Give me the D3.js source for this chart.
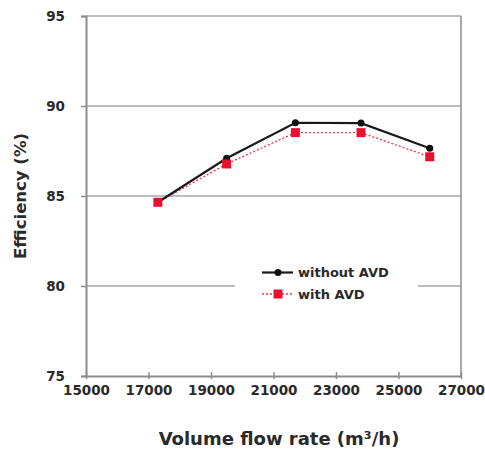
<!DOCTYPE html>
<html><head><meta charset="utf-8">
<script src="https://cdn.jsdelivr.net/npm/d3@7"></script>
<style>body{margin:0;background:#fff;} svg{display:block;}</style>
</head><body>
<svg id="c" width="485" height="452"></svg>
<script>
const flowRates = [17300, 19500, 21700, 23800, 26000];
const withoutAVD = [84.65, 87.1, 89.07, 89.05, 87.65];
const withAVD = [84.65, 86.78, 88.52, 88.52, 87.18];
const xTicks = [15000, 17000, 19000, 21000, 23000, 25000, 27000];
const yTicks = [75, 80, 85, 90, 95];
const seriesNames = ["without AVD", "with AVD"];

const svg = d3.select("#c");
const L = 86, R = 461, T = 16, B = 376;
const x = d3.scaleLinear().domain([15000, 27000]).range([L, R]);
const y = d3.scaleLinear().domain([75, 95]).range([B, T]);
const axisCol = "#8c8c8c", textCol = "#2a2a2a";
const font = "'DejaVu Sans', Verdana, sans-serif";

// gridlines
svg.append("g").selectAll("line").data(yTicks.filter(d => d > 75)).join("line")
  .attr("x1", L).attr("x2", R).attr("y1", d => y(d)).attr("y2", d => y(d))
  .attr("stroke", "#a8a8a8").attr("stroke-width", 1.5);
// right border
svg.append("line").attr("x1", R).attr("x2", R).attr("y1", T).attr("y2", B)
  .attr("stroke", axisCol).attr("stroke-width", 1.5);

// axes
const yAxis = d3.axisLeft(y).tickValues(yTicks).tickSize(5).tickPadding(16).tickFormat(d3.format("d"));
const gy = svg.append("g").attr("transform", `translate(${L},0)`).call(yAxis);
const xAxis = d3.axisBottom(x).tickValues(xTicks).tickSize(0).tickPadding(9).tickFormat(d3.format("d"));
const gx = svg.append("g").attr("transform", `translate(0,${B})`).call(xAxis);
[gy, gx].forEach(g => {
  g.select(".domain").attr("stroke", axisCol).attr("stroke-width", 2);
  g.selectAll(".tick line").attr("stroke", axisCol).attr("stroke-width", 1.5);
  g.selectAll("text").attr("fill", textCol).attr("font-family", font)
    .attr("font-weight", "bold").attr("font-size", 13.5);
});
// small x tick marks straddling the axis
gx.selectAll(".tick").append("line").attr("y1", -4).attr("y2", 3)
  .attr("stroke", axisCol).attr("stroke-width", 1.5);

// axis titles
svg.append("text").attr("transform", `translate(26,196) rotate(-90)`)
  .attr("text-anchor", "middle").attr("fill", textCol).attr("font-family", font)
  .attr("font-weight", "bold").attr("font-size", 16.5).text("Efficiency (%)");
svg.append("text").attr("x", 279).attr("y", 445)
  .attr("text-anchor", "middle").attr("fill", textCol).attr("font-family", font)
  .attr("font-weight", "bold").attr("font-size", 18).text("Volume flow rate (m³/h)");

// series
const line = d3.line().x(d => x(d[0])).y(d => y(d[1]));
const ptsA = flowRates.map((f, i) => [f, withoutAVD[i]]);
const ptsB = flowRates.map((f, i) => [f, withAVD[i]]);

svg.append("path").datum(ptsB).attr("d", line).attr("fill", "none")
  .attr("stroke", "#ee3350").attr("stroke-width", 1.3).attr("stroke-dasharray", "2,2");
svg.append("path").datum(ptsA).attr("d", line).attr("fill", "none")
  .attr("stroke", "#1a1a1a").attr("stroke-width", 2.2);
svg.append("g").selectAll("circle").data(ptsA).join("circle")
  .attr("cx", d => x(d[0])).attr("cy", d => y(d[1])).attr("r", 3.5).attr("fill", "#111");
svg.append("g").selectAll("rect").data(ptsB).join("rect")
  .attr("x", d => x(d[0]) - 4.5).attr("y", d => y(d[1]) - 4.5)
  .attr("width", 9).attr("height", 9).attr("fill", "#e8102e");

// legend
const lg = svg.append("g");
lg.append("rect").attr("x", 235).attr("y", 258).attr("width", 183).attr("height", 52).attr("fill", "#fff");
const legY = [272.5, 294];
lg.append("line").attr("x1", 262).attr("x2", 293).attr("y1", legY[0]).attr("y2", legY[0])
  .attr("stroke", "#1a1a1a").attr("stroke-width", 2.2);
lg.append("circle").attr("cx", 278).attr("cy", legY[0]).attr("r", 3.5).attr("fill", "#111");
lg.append("line").attr("x1", 262).attr("x2", 293).attr("y1", legY[1]).attr("y2", legY[1])
  .attr("stroke", "#ee3350").attr("stroke-width", 1.3).attr("stroke-dasharray", "2,2");
lg.append("rect").attr("x", 273.5).attr("y", legY[1] - 4.5).attr("width", 9).attr("height", 9).attr("fill", "#e8102e");
lg.selectAll("text").data(seriesNames).join("text")
  .attr("x", 298).attr("y", (d, i) => legY[i] + 4.5)
  .attr("fill", textCol).attr("font-family", font).attr("font-weight", "bold")
  .attr("font-size", 13).text(d => d);
</script>
</body></html>
